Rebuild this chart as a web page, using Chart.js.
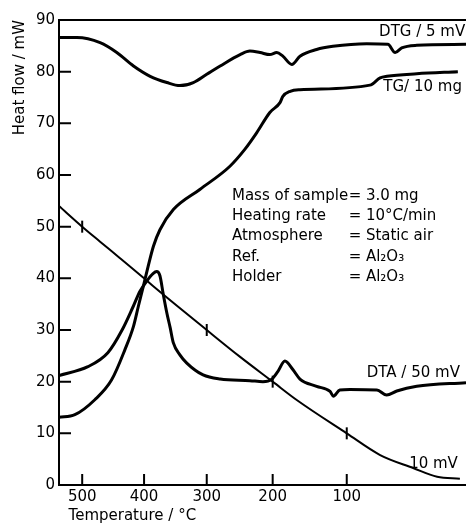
<!DOCTYPE html>
<html>
<head>
<meta charset="utf-8">
<script src="https://cdn.jsdelivr.net/npm/chart.js@4"></script>
<style>
  html, body { margin: 0; padding: 0; background: #fff; }
</style>
</head>
<body>
<canvas id="thermoChart" width="466" height="525"></canvas>
<script>
// x is the position along the recording (0-100); temperature ticks sit where the thermocouple reads them
const tempLabels = [500, 400, 300, 200, 100];
const tempTickPos = [5.7, 20.9, 36.3, 52.5, 70.7];

const dtgCurve = [[0, 86.6], [4.4, 86.6], [10.1, 85.6], [14.2, 83.7], [18.3, 81.1], [22.4, 79.1], [26.5, 77.9],
  [29.7, 77.3], [33.0, 77.9], [36.3, 79.5], [39.6, 81.1], [44.5, 83.3], [46.9, 84.0], [49.4, 83.7], [51.8, 83.3],
  [53.5, 83.7], [55.0, 83.0], [57.2, 81.4], [59.2, 83.0], [63.3, 84.3], [67.3, 84.9], [75.6, 85.4], [80.8, 85.3],
  [82.6, 83.7], [84.2, 84.6], [87.9, 85.1], [100, 85.3]];

const tgCurve = [[0, 13.1], [3.9, 13.6], [8.8, 16.5], [12.9, 20.3], [16.2, 26.2], [18.3, 30.7], [19.5, 34.6],
  [20.7, 38.4], [21.9, 42.3], [23.2, 46.2], [24.8, 49.4], [28.1, 53.3], [34.6, 57.2], [42.0, 61.7], [45.7, 65.0],
  [48.6, 68.2], [51.8, 72.1], [54.3, 74.0], [55.0, 75.2], [56.8, 76.2], [59.2, 76.5], [76.4, 77.4], [78.9, 78.8],
  [80.6, 79.1], [87.9, 79.6], [98.0, 80.0]];

const dtaCurve = [[0, 21.2], [7.1, 22.9], [12.0, 25.6], [15.5, 30.0], [18.2, 34.5], [19.9, 37.5], [21.6, 39.5],
  [23.1, 40.9], [24.0, 41.3], [24.8, 40.5], [25.6, 37.0], [26.5, 33.3], [27.3, 30.5], [28.1, 27.5], [29.7, 25.2],
  [31.4, 23.6], [35.4, 21.3], [39.6, 20.5], [46.9, 20.2], [50.1, 20.0], [52.3, 20.5], [53.8, 22.0], [55.5, 24.0],
  [57.5, 22.3], [59.2, 20.5], [63.3, 19.1], [66.6, 18.1], [67.4, 17.2], [69.0, 18.4], [71.5, 18.5], [78.1, 18.4],
  [80.5, 17.4], [83.0, 18.2], [87.9, 19.1], [100, 19.8]];

const tempCurve = [[0, 54.0], [5.7, 50], [10.1, 47.1], [15.0, 43.9], [20.9, 40], [23.1, 38.5], [36.3, 30],
  [44.5, 24.8], [52.5, 20], [58.5, 16.4], [70.7, 10], [78.9, 5.8], [87.0, 3.3], [92.9, 1.6], [98.5, 1.2]];

// crossing marks on the 10 mV curve
const markPos = [5.7, 36.3, 52.5, 70.7];
const markVal = [50, 30, 20, 10];

const curveNames = ["DTG / 5 mV", "TG/ 10 mg", "DTA / 50 mV", "10 mV"];
const infoKeys = ["Mass of sample", "Heating rate", "Atmosphere", "Ref.", "Holder"];
const infoValues = ["3.0 mg", "10°C/min", "Static air", "Al₂O₃", "Al₂O₃"];

Chart.defaults.font.family = "'DejaVu Sans', sans-serif";
Chart.defaults.font.size = 15;
Chart.defaults.color = "#000";

const frameAndText = {
  id: "frameAndText",
  afterDraw(chart) {
    const { ctx, chartArea: area, scales: { x, y } } = chart;
    ctx.save();
    ctx.strokeStyle = "#000";
    ctx.lineWidth = 2;
    ctx.beginPath();
    ctx.moveTo(area.left, area.top);
    ctx.lineTo(area.right, area.top);
    // ticks point inwards
    y.ticks.forEach(t => {
      if (t.value === 0) return;
      const py = y.getPixelForValue(t.value);
      ctx.moveTo(area.left, py);
      ctx.lineTo(area.left + 12, py);
    });
    tempTickPos.forEach(v => {
      const px = x.getPixelForValue(v);
      ctx.moveTo(px, area.bottom);
      ctx.lineTo(px, area.bottom - 11);
    });
    ctx.stroke();

    ctx.fillStyle = "#000";
    ctx.font = "15px 'DejaVu Sans', sans-serif";
    ctx.textBaseline = "middle";
    ctx.textAlign = "right";
    const spots = [[99.8, 87.6], [99.0, 77.1], [98.5, 21.7], [98.0, 4.1]];
    curveNames.forEach((name, i) => {
      ctx.fillText(name, x.getPixelForValue(spots[i][0]), y.getPixelForValue(spots[i][1]));
    });

    ctx.textAlign = "left";
    infoKeys.forEach((key, i) => {
      const py = y.getPixelForValue(56.0 - i * 3.95);
      ctx.fillText(key, x.getPixelForValue(42.5), py);
      ctx.fillText("=", x.getPixelForValue(71.2), py);
      ctx.fillText(infoValues[i], x.getPixelForValue(75.4), py);
    });
    ctx.restore();
  }
};

const curveStyle = {
  borderColor: "#000",
  borderWidth: 3,
  pointRadius: 0,
  fill: false,
  cubicInterpolationMode: "monotone"
};

new Chart(document.getElementById("thermoChart"), {
  type: "line",
  data: {
    datasets: [
      { ...curveStyle, label: "DTG", data: dtgCurve },
      { ...curveStyle, label: "TG", data: tgCurve },
      { ...curveStyle, label: "DTA", data: dtaCurve },
      { ...curveStyle, label: "T", data: tempCurve, borderWidth: 2 },
      {
        label: "marks",
        data: markPos.map((p, i) => ({ x: p, y: markVal[i] })),
        showLine: false,
        pointStyle: "line",
        rotation: 90,
        pointRadius: 6,
        borderColor: "#000",
        borderWidth: 2
      }
    ]
  },
  options: {
    responsive: false,
    animation: false,
    layout: { autoPadding: false, padding: { top: 20, right: 0, bottom: 0, left: 0 } },
    plugins: { legend: { display: false }, tooltip: { enabled: false } },
    scales: {
      x: {
        type: "linear",
        min: 0,
        max: 100,
        grid: { display: false, drawTicks: false },
        border: { display: true, color: "#000", width: 2 },
        afterBuildTicks: s => { s.ticks = tempTickPos.map(v => ({ value: v })); },
        afterFit: s => { s.height = 40; s.paddingLeft = 0; s.paddingRight = 0; },
        ticks: {
          autoSkip: false,
          maxRotation: 0,
          padding: 3,
          callback: (v, i) => tempLabels[i]
        },
        title: { display: true, text: "  Temperature / °C", align: "start", padding: { top: 0, bottom: 0 } }
      },
      y: {
        min: 0,
        max: 90,
        grid: { display: false, drawTicks: false },
        border: { display: true, color: "#000", width: 2 },
        afterFit: s => { s.width = 59; },
        ticks: { stepSize: 10, padding: 4 },
        title: { display: true, text: "Heat flow / mW", align: "end", padding: { top: 11, bottom: 0 } }
      }
    }
  },
  plugins: [frameAndText]
});
</script>
</body>
</html>
